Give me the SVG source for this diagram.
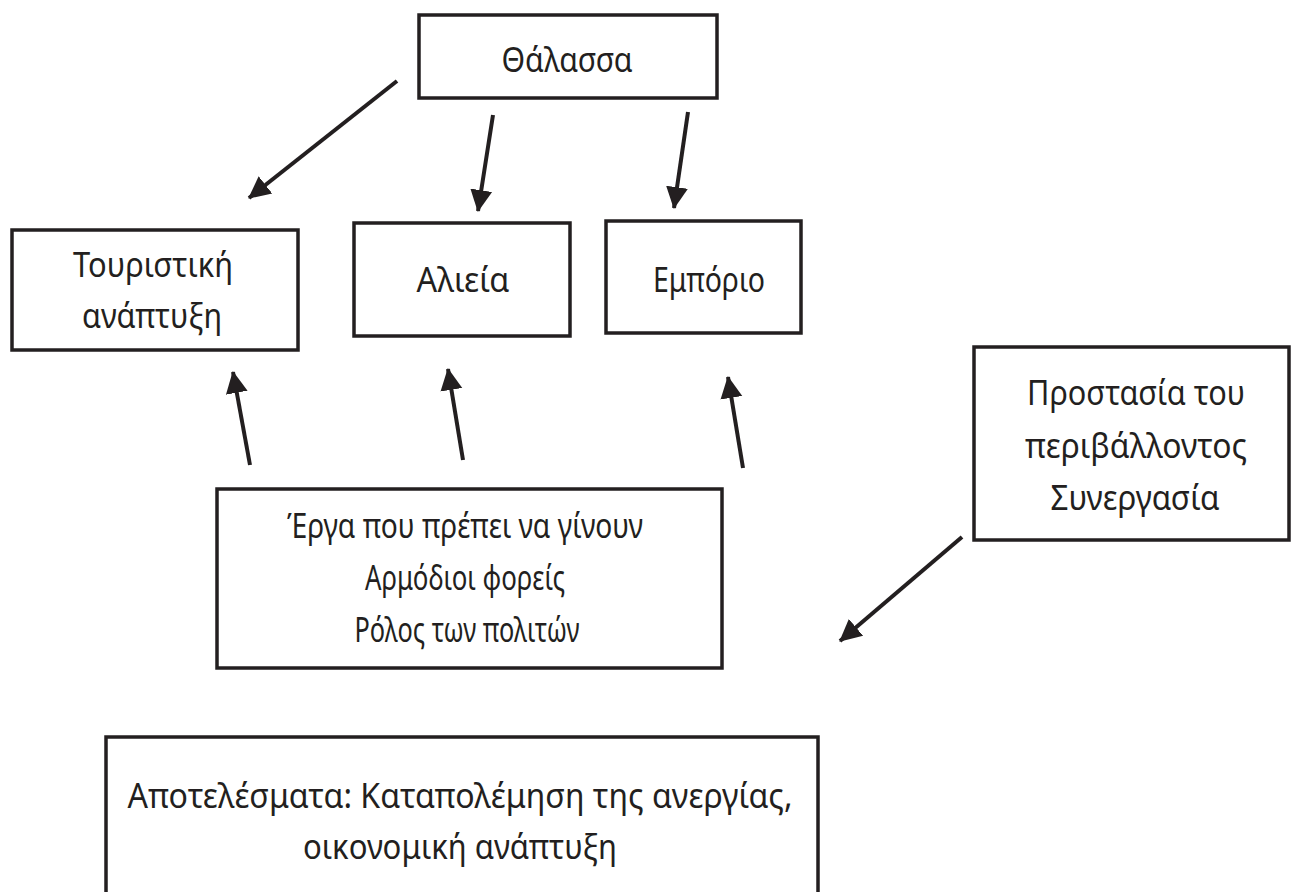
<svg xmlns="http://www.w3.org/2000/svg" width="1292" height="892" viewBox="0 0 1292 892">
<style>
.box{fill:#fff;stroke:#231f20;stroke-width:3.5}
.t{font-family:"Noto Sans","Open Sans",sans-serif;font-size:34px;fill:#231f20;text-anchor:middle}
.c{stroke:#231f20;stroke-width:4;fill:none;marker-end:url(#ah)}
</style>
<defs>
<marker id="ah" markerUnits="userSpaceOnUse" markerWidth="26" markerHeight="26" viewBox="0 0 26 26" refX="21" refY="13" orient="auto">
<path d="M0,2 L22,13 L0,24 Z" fill="#231f20"/>
</marker>
</defs>
<rect width="1292" height="892" fill="#fff"/>
<g id="connectors">
<line class="c" x1="397" y1="81" x2="249" y2="198"/>
<line class="c" x1="493" y1="115" x2="478" y2="211"/>
<line class="c" x1="688" y1="112" x2="674" y2="208"/>
<line class="c" x1="250" y1="465" x2="233" y2="372"/>
<line class="c" x1="463" y1="460" x2="448" y2="369"/>
<line class="c" x1="743" y1="468" x2="728" y2="377"/>
<line class="c" x1="962" y1="537" x2="840" y2="641"/>
</g>
<g id="thalassa">
<rect class="box" x="419" y="15" width="298" height="83"/>
<text class="t" x="567" y="72" textLength="131" lengthAdjust="spacingAndGlyphs">Θάλασσα</text>
</g>
<g id="touristiki">
<rect class="box" x="12" y="230" width="286" height="120"/>
<text class="t" x="153" y="277" font-size="36" textLength="160" lengthAdjust="spacingAndGlyphs">Τουριστική</text>
<text class="t" x="152" y="328" font-size="36" textLength="140" lengthAdjust="spacingAndGlyphs">ανάπτυξη</text>
</g>
<g id="alieia">
<rect class="box" x="354" y="223" width="216" height="113"/>
<text class="t" x="463" y="292" textLength="93" lengthAdjust="spacingAndGlyphs">Αλιεία</text>
</g>
<g id="emporio">
<rect class="box" x="606" y="221" width="195" height="112"/>
<text class="t" x="709" y="292" textLength="112" lengthAdjust="spacingAndGlyphs">Εμπόριο</text>
</g>
<g id="prostasia">
<rect class="box" x="974" y="347" width="315" height="193"/>
<text class="t" x="1136" y="405" textLength="218" lengthAdjust="spacingAndGlyphs">Προστασία του</text>
<text class="t" x="1136" y="458" textLength="222" lengthAdjust="spacingAndGlyphs">περιβάλλοντος</text>
<text class="t" x="1135" y="510" textLength="169" lengthAdjust="spacingAndGlyphs">Συνεργασία</text>
</g>
<g id="erga">
<rect class="box" x="217" y="489" width="505" height="179"/>
<text class="t" x="465" y="538" textLength="356" lengthAdjust="spacingAndGlyphs">Έργα που πρέπει να γίνουν</text>
<text class="t" x="465" y="590" textLength="200" lengthAdjust="spacingAndGlyphs">Αρμόδιοι φορείς</text>
<text class="t" x="467" y="642" textLength="225" lengthAdjust="spacingAndGlyphs">Ρόλος των πολιτών</text>
</g>
<g id="apotelesmata">
<rect class="box" x="106" y="737" width="712" height="170"/>
<text class="t" x="460" y="808" textLength="665" lengthAdjust="spacingAndGlyphs">Αποτελέσματα: Καταπολέμηση της ανεργίας,</text>
<text class="t" x="460" y="859" textLength="314" lengthAdjust="spacingAndGlyphs">οικονομική ανάπτυξη</text>
</g>
</svg>
